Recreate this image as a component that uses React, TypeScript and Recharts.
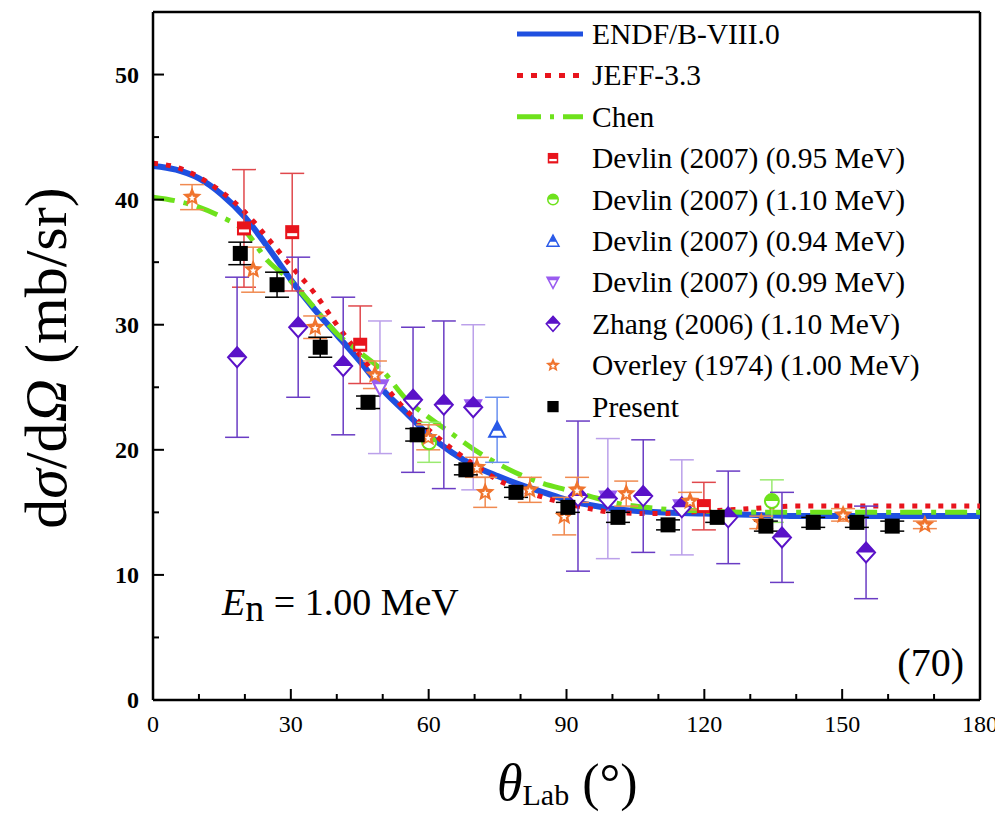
import React from "react";
import {
  ComposedChart, Line, Scatter, XAxis, YAxis, ErrorBar, ReferenceLine,
} from "recharts";

const SERIF = "Liberation Serif";

// curve angles (deg) and evaluated cross sections (mb/sr)
const curveAngles = [0, 5, 10, 15, 20, 25, 30, 35, 40, 45, 50, 55, 60, 65, 70, 75, 80, 85, 90, 95, 100, 110, 120, 130, 140, 150, 160, 170, 180];
const endfValues = [42.7, 42.4, 41.7, 40.4, 38.6, 36.2, 33.6, 31.3, 29.2, 27.1, 24.8, 23.0, 21.2, 19.8, 18.7, 17.9, 17.2, 16.6, 16.0, 15.6, 15.3, 15.0, 14.9, 14.8, 14.7, 14.7, 14.7, 14.7, 14.7];
const jeffValues = [42.9, 42.6, 41.8, 40.6, 39.0, 36.9, 34.7, 32.6, 30.0, 27.6, 25.3, 23.2, 21.6, 20.1, 18.8, 17.6, 16.8, 16.2, 15.7, 15.3, 15.0, 14.9, 15.1, 15.3, 15.5, 15.5, 15.5, 15.5, 15.5];
const chenValues = [40.2, 39.9, 39.4, 38.6, 37.5, 35.1, 33.5, 31.4, 29.3, 27.8, 26.3, 24.1, 22.6, 21.3, 20.0, 18.9, 18.0, 17.3, 16.8, 16.3, 15.8, 15.3, 15.1, 15.0, 15.0, 15.0, 15.0, 15.0, 15.0];

// measurements: [angle, value, error]
const devlin095 = [[19.8, 37.7, 4.7], [30.3, 37.4, 4.7], [45.1, 28.4, 3.1], [119.9, 15.5, 1.9]];
const devlin110 = [[60.1, 20.6, 1.6], [134.7, 15.9, 1.7]];
const devlin094 = [[74.9, 21.6, 2.6]];
const devlin099 = [[49.4, 25.0, 5.3], [69.7, 23.4, 6.6], [99.0, 16.1, 4.8], [115.1, 15.4, 3.8]];
const zhang = [[18.3, 27.4, 6.4], [31.6, 29.8, 5.6], [41.4, 26.7, 5.5], [56.6, 24.0, 5.8], [63.3, 23.6, 6.7], [69.7, 23.4, 0], [92.5, 16.3, 6.0], [99.0, 16.1, 0], [106.7, 16.3, 4.5], [115.1, 15.4, 0], [125.2, 14.6, 3.7], [136.9, 13.0, 3.6], [155.2, 11.8, 3.7]];
const overley = [[8.5, 40.2, 1.0], [21.8, 34.4, 1.8], [35.3, 29.8, 0.9], [48.3, 26.0, 1.1], [59.9, 21.0, 1.0], [70.5, 18.6, 0.8], [72.3, 16.6, 1.2], [82.0, 16.8, 1.0], [89.5, 14.7, 1.5], [92.3, 16.8, 1.0], [103.0, 16.5, 1.0], [116.9, 15.9, 0.7], [132.4, 14.2, 0.5], [150.2, 14.8, 0.5], [168.0, 14.0, 0.3]];
const present = [[19.0, 35.7, 0.9], [27.0, 33.2, 1.0], [36.4, 28.2, 0.8], [46.8, 23.8, 0.5], [57.5, 21.2, 0.5], [68.1, 18.4, 0.4], [79.0, 16.6, 0.4], [90.3, 15.4, 0.4], [101.2, 14.6, 0.4], [112.1, 14.0, 0.4], [122.8, 14.6, 0.4], [133.4, 13.9, 0.4], [143.7, 14.2, 0.4], [153.2, 14.2, 0.4], [160.9, 13.9, 0.4]];

const xTicks = [0, 10, 20, 30, 40, 50, 60, 70, 80, 90, 100, 110, 120, 130, 140, 150, 160, 170, 180];
const yTicks = [0, 5, 10, 15, 20, 25, 30, 35, 40, 45, 50];

const legendNames = [
  "ENDF/B-VIII.0", "JEFF-3.3", "Chen",
  "Devlin (2007) (0.95 MeV)", "Devlin (2007) (1.10 MeV)", "Devlin (2007) (0.94 MeV)",
  "Devlin (2007) (0.99 MeV)", "Zhang (2006) (1.10 MeV)", "Overley (1974) (1.00 MeV)", "Present",
];

const C = {
  endf: "#1f50e0", jeff: "#e8141c", chen: "#6ee21c",
  red: "#e8141c", green: "#6ee21c", blue: "#2a5ae8", lilac: "#9a5cf0",
  zhang: "#5a12c8", orange: "#f0742e", black: "#000",
};

const curve = (vals: number[]) => curveAngles.map((x, i) => ({ x, y: vals[i] }));
const pts = (arr: number[][]) => arr.map(([x, y, e]) => ({ x, y, err: e }));

// marker shapes
const squareHalf = (cx: number, cy: number, s = 1) => (
  <g>
    <rect x={cx - 7 * s} y={cy - 7 * s} width={14 * s} height={14 * s} fill={C.red} />
    <rect x={cx - 5 * s} y={cy + 1 * s} width={10 * s} height={3 * s} fill="#fff" />
  </g>
);
const circleHalf = (cx: number, cy: number, s = 1) => (
  <g>
    <circle cx={cx} cy={cy} r={7 * s} fill="#fff" stroke={C.green} strokeWidth={2 * s} />
    <path d={`M${cx - 7 * s},${cy} A${7 * s},${7 * s} 0 0 1 ${cx + 7 * s},${cy} Z`} fill={C.green} />
  </g>
);
const triUp = (cx: number, cy: number, s = 1) => (
  <g>
    <path d={`M${cx},${cy - 8 * s} L${cx + 8 * s},${cy + 7 * s} L${cx - 8 * s},${cy + 7 * s} Z`} fill="#fff" stroke={C.blue} strokeWidth={2 * s} />
    <path d={`M${cx},${cy - 8 * s} L${cx + 4.5 * s},${cy + 1 * s} L${cx - 4.5 * s},${cy + 1 * s} Z`} fill={C.blue} />
  </g>
);
const triDown = (cx: number, cy: number, s = 1) => (
  <g>
    <path d={`M${cx - 8 * s},${cy - 7 * s} L${cx + 8 * s},${cy - 7 * s} L${cx},${cy + 8 * s} Z`} fill="#fff" stroke={C.lilac} strokeWidth={2 * s} />
    <path d={`M${cx - 8 * s},${cy - 7 * s} L${cx + 8 * s},${cy - 7 * s} L${cx + 6 * s},${cy - 3 * s} L${cx - 6 * s},${cy - 3 * s} Z`} fill={C.lilac} />
  </g>
);
const diamond = (cx: number, cy: number, s = 1) => (
  <g>
    <path d={`M${cx},${cy - 10 * s} L${cx + 9 * s},${cy} L${cx},${cy + 10 * s} L${cx - 9 * s},${cy} Z`} fill="#fff" stroke={C.zhang} strokeWidth={2 * s} />
    <path d={`M${cx},${cy - 10 * s} L${cx + 9 * s},${cy} L${cx - 9 * s},${cy} Z`} fill={C.zhang} />
  </g>
);
const starPath = (cx: number, cy: number, r: number) => {
  const p: string[] = [];
  for (let i = 0; i < 10; i++) {
    const a = -Math.PI / 2 + (i * Math.PI) / 5;
    const rr = i % 2 === 0 ? r : r * 0.45;
    p.push(`${cx + rr * Math.cos(a)},${cy + rr * Math.sin(a)}`);
  }
  return "M" + p.join("L") + "Z";
};
const star = (cx: number, cy: number, s = 1) => (
  <g>
    <path d={starPath(cx, cy, 10 * s)} fill={C.orange} />
    <path d={starPath(cx, cy + 1 * s, 3.5 * s)} fill="#fff" />
  </g>
);
const blackSq = (cx: number, cy: number, s = 1) => (
  <rect x={cx - 7.5 * s} y={cy - 7.5 * s} width={15 * s} height={15 * s} fill={C.black} />
);

const shape = (fn: (cx: number, cy: number, s?: number) => React.ReactElement) =>
  (props: any) => fn(props.cx, props.cy);

const XTick = (props: any) => {
  const { x, y, payload } = props;
  const v = payload.value;
  const major = v % 30 === 0;
  return (
    <g>
      <line x1={x} y1={y} x2={x} y2={y - (major ? 11 : 6)} stroke="#000" strokeWidth={2} />
      {major && (
        <text x={x} y={y + 32} textAnchor="middle" fontSize={24} fontFamily={SERIF} fill="#000">{v}</text>
      )}
    </g>
  );
};

const YTick = (props: any) => {
  const { x, y, payload } = props;
  const v = payload.value;
  const major = v % 10 === 0;
  return (
    <g>
      <line x1={x} y1={y} x2={x + (major ? 11 : 6)} y2={y} stroke="#000" strokeWidth={2} />
      {major && (
        <text x={x - 14} y={y + 8} textAnchor="end" fontSize={24} fontWeight="bold" fontFamily={SERIF} fill="#000">{v}</text>
      )}
    </g>
  );
};

const markerFns = [squareHalf, circleHalf, triUp, triDown, diamond, star, blackSq];

export default function App() {
  const rowY = (i: number) => 26 + i * 41.4;
  return (
    <div style={{ position: "relative", width: 995, height: 811, background: "#fff" }}>
      <ComposedChart width={995} height={811} margin={{ top: 4, right: 23, left: 85, bottom: 79 }}>
        <XAxis
          dataKey="x" type="number" domain={[0, 180]} ticks={xTicks} interval={0}
          allowDataOverflow height={40} tickSize={0} tickMargin={0} tickLine={false}
          axisLine={{ stroke: "#000", strokeWidth: 2.5 }} tick={<XTick />}
        />
        <YAxis
          type="number" domain={[0, 55]} ticks={yTicks} interval={0} allowDataOverflow
          width={60} tickSize={0} tickMargin={0} tickLine={false}
          axisLine={{ stroke: "#000", strokeWidth: 2.5 }} tick={<YTick />}
        />
        <ReferenceLine y={55} stroke="#000" strokeWidth={2.5} />
        <ReferenceLine x={180} stroke="#000" strokeWidth={2.5} />

        <Line data={curve(endfValues)} dataKey="y" type="monotone" stroke={C.endf} strokeWidth={6} dot={false} isAnimationActive={false} />
        <Line data={curve(jeffValues)} dataKey="y" type="monotone" stroke={C.jeff} strokeWidth={5} strokeDasharray="5 8" dot={false} isAnimationActive={false} />
        <Line data={curve(chenValues)} dataKey="y" type="monotone" stroke={C.chen} strokeWidth={5} strokeDasharray="22 9 5 9" dot={false} isAnimationActive={false} />

        <Scatter data={pts(devlin095)} dataKey="y" shape={shape(squareHalf)} isAnimationActive={false}>
          <ErrorBar dataKey="err" direction="y" width={12} stroke="#e0484c" strokeWidth={1.5} />
        </Scatter>
        <Scatter data={pts(devlin110)} dataKey="y" shape={shape(circleHalf)} isAnimationActive={false}>
          <ErrorBar dataKey="err" direction="y" width={12} stroke="#9aea70" strokeWidth={1.5} />
        </Scatter>
        <Scatter data={pts(devlin094)} dataKey="y" shape={shape(triUp)} isAnimationActive={false}>
          <ErrorBar dataKey="err" direction="y" width={12} stroke="#6a90f0" strokeWidth={1.5} />
        </Scatter>
        <Scatter data={pts(devlin099)} dataKey="y" shape={shape(triDown)} isAnimationActive={false}>
          <ErrorBar dataKey="err" direction="y" width={12} stroke="#bba0ea" strokeWidth={1.5} />
        </Scatter>
        <Scatter data={pts(zhang)} dataKey="y" shape={shape(diamond)} isAnimationActive={false}>
          <ErrorBar dataKey="err" direction="y" width={12} stroke="#6a3cc4" strokeWidth={1.5} />
        </Scatter>
        <Scatter data={pts(overley)} dataKey="y" shape={shape(star)} isAnimationActive={false}>
          <ErrorBar dataKey="err" direction="y" width={12} stroke="#f08a50" strokeWidth={1.5} />
        </Scatter>
        <Scatter data={pts(present)} dataKey="y" shape={shape(blackSq)} isAnimationActive={false}>
          <ErrorBar dataKey="err" direction="y" width={12} stroke="#000" strokeWidth={1.5} />
        </Scatter>
      </ComposedChart>

      <svg width={995} height={811} style={{ position: "absolute", left: 0, top: 0, pointerEvents: "none" }}>
        {/* legend */}
        <g>
          <line x1={509} y1={rowY(0)} x2={575} y2={rowY(0)} stroke={C.endf} strokeWidth={5} />
          <line x1={509} y1={rowY(1)} x2={575} y2={rowY(1)} stroke={C.jeff} strokeWidth={5} strokeDasharray="6 8" />
          <line x1={509} y1={rowY(2)} x2={575} y2={rowY(2)} stroke={C.chen} strokeWidth={5} strokeDasharray="24 9 4 9" />
          {markerFns.map((fn, i) => (
            <g key={i}>{fn(545, rowY(i + 3), 0.75)}</g>
          ))}
          {legendNames.map((n, i) => (
            <text key={n} x={584} y={rowY(i) + 10} fontFamily={SERIF} fontSize={29.5} fill="#000">{n}</text>
          ))}
        </g>

        {/* axis titles */}
        <text transform="translate(58,350) rotate(-90)" textAnchor="middle" fontFamily={SERIF} fontSize={60} fill="#000">
          d<tspan fontStyle="italic">σ</tspan>/d<tspan fontStyle="italic">Ω</tspan> (mb/sr)
        </text>
        <text x={489} y={792} fontFamily={SERIF} fontSize={52} fill="#000">
          <tspan fontStyle="italic">θ</tspan>
          <tspan fontSize={30} dy={5}>Lab</tspan>
          <tspan dy={-5}> (°)</tspan>
        </text>

        {/* annotations */}
        <text x={214} y={607} fontFamily={SERIF} fontSize={38} fill="#000">
          <tspan fontStyle="italic">E</tspan>
          <tspan dy={6}>n</tspan>
          <tspan dy={-6}> = 1.00 MeV</tspan>
        </text>
        <text x={956} y={668} textAnchor="end" fontFamily={SERIF} fontSize={40} fill="#000">(70)</text>
      </svg>
    </div>
  );
}
